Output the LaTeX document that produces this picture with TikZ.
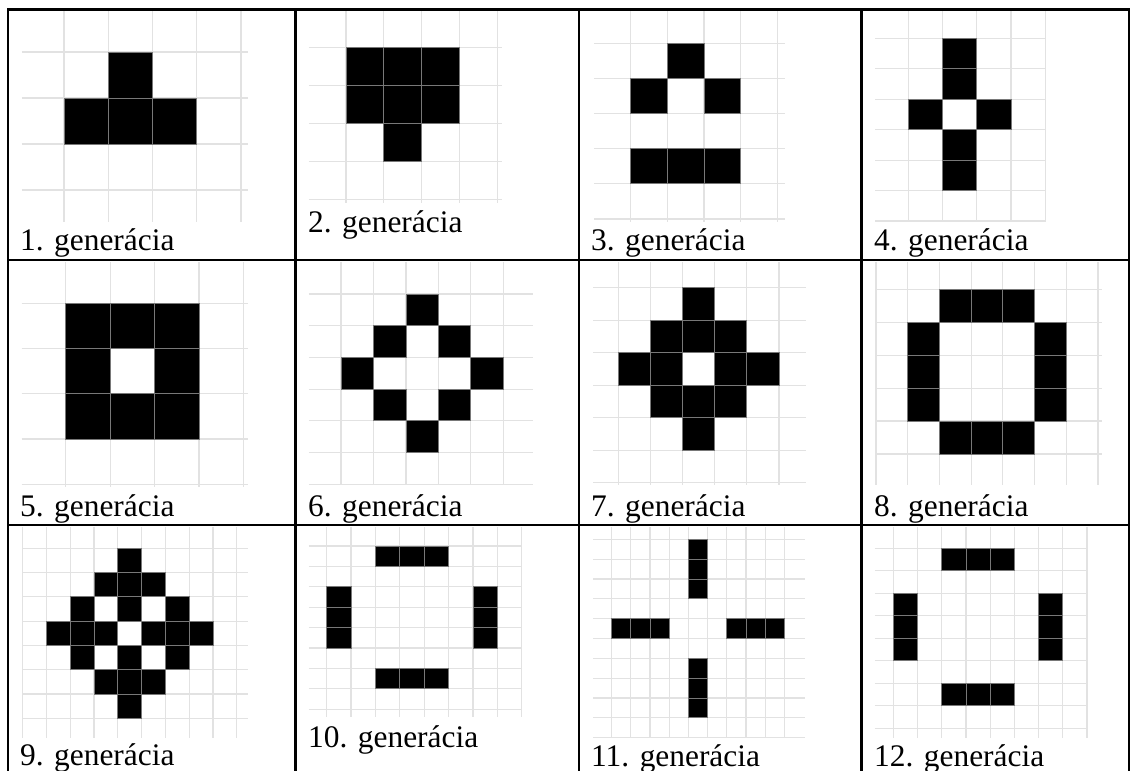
\documentclass[tikz,border=0pt]{standalone}
\usepackage{fontspec}
\setmainfont{Liberation Serif}
\usepackage{tikz}
\definecolor{gridgray}{RGB}{226,226,226}
\definecolor{edgegray}{RGB}{120,120,120}
\tikzset{
  gridline/.style={draw=gridgray,line width=1.2pt},
  livecell/.style={fill=black,draw=edgegray,line width=0.8pt},
  rule/.style={draw=black,line width=2.4pt,line cap=rect},
  gen/.style={anchor=base west,inner sep=0pt,
    font=\fontsize{31.4}{36}\selectfont}
}
% grid of one panel: column lines, row lines, left, right, top, bottom
\newcommand{\lifegrid}[6]{%
  \foreach \i in {#1} \draw[gridline] (\i,#5) -- (\i,#6);
  \foreach \j in {#2} \draw[gridline] (#3,\j) -- (#4,\j);}
\newcommand{\livecells}[1]{%
  \foreach \c/\r in {#1} \draw[livecell] (\c,\r) rectangle ++(1,1);}
\begin{document}
\begin{tikzpicture}[x=1pt,y=-1pt]
  \fill[white] (0,0) rectangle (1130,771);
  \useasboundingbox (0,0) rectangle (1130,771);
  % row 1
  \begin{scope}[shift={(64,52)},x=44.25pt,y=-46pt]
    \lifegrid{0,...,4}{0,...,3}{-0.95}{4.16}{-0.91}{3.70}
    \livecells{1/0,0/1,1/1,2/1}
  \end{scope}
  \begin{scope}[shift={(346,47.7)},x=37.8pt,y=-37.9pt]
    \lifegrid{0,...,4}{0,...,4}{-0.98}{4.12}{-0.99}{4.10}
    \livecells{0/0,1/0,2/0,0/1,1/1,2/1,1/2}
  \end{scope}
  \begin{scope}[shift={(630.7,43.3)},x=36.65pt,y=-35.14pt]
    \lifegrid{0,...,4}{0,...,5}{-0.99}{4.21}{-0.95}{5.08}
    \livecells{1/0,0/1,2/1,0/3,1/3,2/3}
  \end{scope}
  \begin{scope}[shift={(908.3,38.3)},x=34.2pt,y=-30.45pt]
    \lifegrid{0,...,4}{0,...,6}{-0.97}{4.03}{-0.93}{6.02}
    \livecells{1/0,1/1,0/2,2/2,1/3,1/4}
  \end{scope}
  % row 2
  \begin{scope}[shift={(65.7,303.3)},x=44.4pt,y=-45.25pt]
    \lifegrid{0,...,4}{0,...,4}{-0.99}{4.11}{-0.91}{4.05}
    \livecells{0/0,1/0,2/0,0/1,2/1,0/2,1/2,2/2}
  \end{scope}
  \begin{scope}[shift={(341,294)},x=32.46pt,y=-31.72pt]
    \lifegrid{0,...,5}{0,...,6}{-0.99}{5.92}{-1.01}{6.02}
    \livecells{2/0,1/1,3/1,0/2,4/2,1/3,3/3,2/4}
  \end{scope}
  \begin{scope}[shift={(618.3,287.7)},x=32.14pt,y=-32.5pt]
    \lifegrid{0,...,5}{0,...,6}{-0.78}{5.83}{-0.79}{6.07}
    \livecells{2/0,1/1,2/1,3/1,0/2,1/2,3/2,4/2,1/3,2/3,3/3,2/4}
  \end{scope}
  \begin{scope}[shift={(907.7,289.3)},x=31.72pt,y=-32.94pt]
    \lifegrid{-1,...,6}{0,...,5}{-1.01}{6.12}{-0.83}{5.94}
    \livecells{1/0,2/0,3/0,0/1,4/1,0/2,4/2,0/3,4/3,1/4,2/4,3/4}
  \end{scope}
  % row 3
  \begin{scope}[shift={(22.7,548.3)},x=23.78pt,y=-24.29pt]
    \lifegrid{0,...,9}{0,...,7}{0}{9.48}{-0.88}{7.82}
    \livecells{4/0,3/1,4/1,5/1,2/2,4/2,6/2,1/3,2/3,3/3,5/3,6/3,7/3,
      2/4,4/4,6/4,3/5,4/5,5/5,4/6}
  \end{scope}
  \begin{scope}[shift={(326.7,546)},x=24.375pt,y=-20.41pt]
    \lifegrid{0,...,8}{0,...,8}{-0.73}{8}{-0.93}{8.39}
    \livecells{2/0,3/0,4/0,0/2,0/3,0/4,6/2,6/3,6/4,2/6,3/6,4/6}
  \end{scope}
  \begin{scope}[shift={(611.7,539.3)},x=19.18pt,y=-19.84pt]
    \lifegrid{0,...,9}{0,...,10}{-0.96}{10.1}{-0.62}{10}
    \livecells{4/0,4/1,4/2,0/4,1/4,2/4,6/4,7/4,8/4,4/6,4/7,4/8}
  \end{scope}
  \begin{scope}[shift={(893.3,548.3)},x=24.21pt,y=-22.5pt]
    \lifegrid{0,...,8}{0,...,8}{-0.76}{8}{-0.95}{8.44}
    \livecells{2/0,3/0,4/0,0/2,0/3,0/4,6/2,6/3,6/4,2/6,3/6,4/6}
  \end{scope}
  % labels
  \node[gen] (g1) at (20,250) {1. generácia};
  \node[gen] (g2) at (308,232) {2. generácia};
  \node[gen] (g3) at (591,250) {3. generácia};
  \node[gen] (g4) at (874,250) {4. generácia};
  \node[gen] (g5) at (20,516) {5. generácia};
  \node[gen] (g6) at (308,516) {6. generácia};
  \node[gen] (g7) at (591,516) {7. generácia};
  \node[gen] (g8) at (874,516) {8. generácia};
  \node[gen] (g9) at (20,765) {9. generácia};
  \node[gen] (g10) at (308,747) {10. generácia};
  \node[gen] (g11) at (591,766) {11. generácia};
  \node[gen] (g12) at (874,766) {12. generácia};
  % table rules
  \foreach \x in {8,295.3,579,861.3,1129}
    \draw[rule] (\x,9.5) -- (\x,771);
  \foreach \y in {9.5,259.7,524.7}
    \draw[rule] (8,\y) -- (1129,\y);
\end{tikzpicture}
\end{document}
